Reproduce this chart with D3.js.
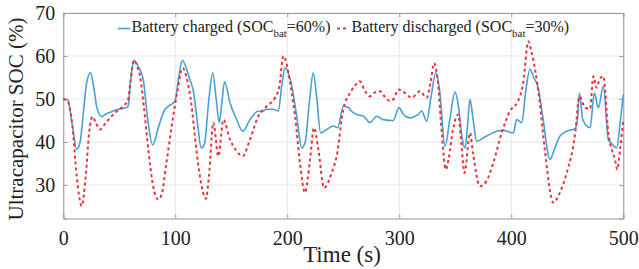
<!DOCTYPE html>
<html><head><meta charset="utf-8">
<script src="https://cdn.jsdelivr.net/npm/d3@7"></script>
<style>body{margin:0;background:#fff}svg{display:block}</style>
</head><body>
<script>
const xTicks = [0, 100, 200, 300, 400, 500];
const yTicks = [30, 40, 50, 60, 70];
const seriesNames = ["Battery charged (SOC", "Battery discharged (SOC"];
const seriesSubs = ["bat", "bat"];
const seriesTails = ["=60%)", "=30%)"];

const chargedT = [0,4,8,12,15,18,21,24.4,27,30,34.3,38,41.7,49,56.6,58,60,63,67,71.4,75,79.8,85,90.8,93.8,99.7,103,106.3,110,113,116,120,123,126,130,133.4,136.5,139.3,141.5,144,148.8,154.8,160.2,166.7,174.1,177,181.6,187.5,192,195,198,201,204,208.4,212.9,216,220,223.2,226,229.8,235.2,241,245,250,254.5,258,262,268,273.8,279.8,285.5,294.6,299.7,303.6,309.6,314,317,320,324.5,328,332.7,336,340.8,345,349.7,353,356,358.7,361,363.1,366,369,378,387,393,401.8,404.8,409.3,413,416.7,420,424,428,434.6,438,443.5,449.5,456.9,459,460.8,463.8,470.3,474.2,477.7,482.2,486.6,490,494.1,497,500];
const chargedV = [50,49.8,44,38.3,40,47,54,56.1,53,48,45.9,46.5,46.9,47.6,48,48.5,54,59,57.5,54.5,46,39.3,43.5,47.6,48.3,49.5,55,59,57,54.5,52,44,38.6,39.5,50,56.1,50,44.5,49,54,49.1,45.2,42.5,45.2,47.2,47,47.6,47.6,47.2,53,57.3,56,53,46,38.6,40,50,56.1,51,42.1,42.9,43.7,43.3,48.3,48,47,46.4,46,44.5,46,45.2,45,48,46.4,45.6,46,46.4,47.2,44.8,50,56.1,52,39,45,51.6,48,41,38.6,44,49.9,45,40.2,41.4,42.5,42.7,42.1,45.2,44.5,52,56.9,55,52.6,46,35.9,38,41.4,42.5,43.1,45,51.4,45.2,43.3,51.4,48,53,40.6,39.5,38.6,44,51];

const dischargedT = [0,4,8,12,16.4,20,23,26.2,29,32.8,38,45,55,57.6,60,63,66,68.5,72,76,80,84.8,88,92,97,102,106.6,110,114.6,118,122,127.4,130,134,138.4,143,148.8,154.8,160.2,166.7,174.1,181.6,189,193,196.4,199,200.9,206.9,211.3,215.8,220.3,223.8,227.7,232.8,239.6,244.1,250,256,260,264.9,269,273.8,278,282.8,287,291.7,295,299.1,305,311,318.5,324.5,328,331,334,338,341.4,344,348,352.7,355,358.2,363.1,366,372,378,384,391.4,398.8,406,410.7,415.2,418,421.2,425,430,437.5,443,449.5,456.9,460.8,465.8,470.3,473.3,476.2,478.8,482.2,486.6,492.6,494.6,497,500];
const dischargedV = [50,49.5,44,32,25.1,32,42,45.9,44.5,42.9,44.5,46.5,48.7,49.5,54,59,57.5,55.3,48,38,30,26.6,28,35,44,52,57.2,55,48.3,40,32,26.8,32,44.5,36.7,45.2,40.6,37.9,36.7,40.6,46,48.3,50.3,53,60,58.5,56.1,46,35.2,28.2,35.9,43.3,38.3,29.3,32.8,36.7,47.6,51.4,53,54.1,52,50.6,51.5,51.8,50.5,49.5,50,52.2,51.4,50.3,51.8,50.3,54,58.3,55,42,33.6,36,43,46.4,41,32.8,42.1,37,29.7,31,35.2,42.1,47.2,49.5,53.8,63.4,61,56.9,50,38,25.9,28,32.8,41.7,50.6,48,47.7,55.3,52.6,54.5,55.3,42.1,35.9,33.6,38,45.2];

const W = 639, H = 269;
const L = 63.3, R = 623.3, T = 13, B = 218.5;
const svg = d3.select("body").append("svg").attr("width", W).attr("height", H);
const x = d3.scaleLinear().domain([0, 500]).range([L, R]);
const y = d3.scaleLinear().domain([22.2, 70]).range([B, T]);

// grid
svg.append("g").selectAll("line").data(xTicks).join("line")
  .attr("x1", d => x(d)).attr("x2", d => x(d)).attr("y1", T).attr("y2", B)
  .attr("stroke", "#e6e6e6").attr("stroke-width", 1);
svg.append("g").selectAll("line").data(yTicks).join("line")
  .attr("x1", L).attr("x2", R).attr("y1", d => y(d)).attr("y2", d => y(d))
  .attr("stroke", "#e6e6e6").attr("stroke-width", 1);

// axes
const font = "Liberation Serif, Times New Roman, serif";
const xAxis = svg.append("g").attr("transform", `translate(0,${B})`)
  .call(d3.axisBottom(x).tickValues(xTicks).tickSize(-4).tickPadding(12));
const yAxis = svg.append("g").attr("transform", `translate(${L},0)`)
  .call(d3.axisLeft(y).tickValues(yTicks).tickSize(-4).tickPadding(8));
[xAxis, yAxis].forEach(a => {
  a.select(".domain").attr("stroke", "#999");
  a.selectAll(".tick line").attr("stroke", "#999");
  a.selectAll("text").attr("font-family", font).attr("font-size", 20).attr("fill", "#222");
});
svg.append("g").attr("transform", `translate(0,${T})`)
  .call(d3.axisTop(x).tickValues(xTicks).tickSize(-4).tickFormat(""))
  .call(g => { g.select(".domain").attr("stroke", "#999"); g.selectAll("line").attr("stroke", "#999"); });
svg.append("g").attr("transform", `translate(${R},0)`)
  .call(d3.axisRight(y).tickValues(yTicks).tickSize(-4).tickFormat(""))
  .call(g => { g.select(".domain").attr("stroke", "#999"); g.selectAll("line").attr("stroke", "#999"); });

// lines
const line = d3.line().x(d => x(d[0])).y(d => y(d[1])).curve(d3.curveMonotoneX);
const charged = chargedT.map((t, i) => [t, chargedV[i]]);
const discharged = dischargedT.map((t, i) => [t, dischargedV[i]]);
svg.append("path").datum(charged).attr("d", line).attr("fill", "none")
  .attr("stroke", "#4a9fd5").attr("stroke-width", 1.6);
svg.append("path").datum(discharged).attr("d", line).attr("fill", "none")
  .attr("stroke", "#e8323c").attr("stroke-width", 2).attr("stroke-dasharray", "3,3");

// labels
svg.append("text").attr("x", 342).attr("y", 262).attr("text-anchor", "middle")
  .attr("font-family", font).attr("font-size", 23).attr("fill", "#222").text("Time (s)");
svg.append("text").attr("transform", "translate(23,119) rotate(-90)").attr("text-anchor", "middle")
  .attr("font-family", font).attr("font-size", 21).attr("fill", "#222").text("Ultracapacitor SOC (%)");

// legend
const lg = svg.append("g");
lg.append("line").attr("x1", 118).attr("x2", 130).attr("y1", 28.5).attr("y2", 28.5)
  .attr("stroke", "#4a9fd5").attr("stroke-width", 1.6);
lg.append("line").attr("x1", 337).attr("x2", 348).attr("y1", 28.5).attr("y2", 28.5)
  .attr("stroke", "#e8323c").attr("stroke-width", 2).attr("stroke-dasharray", "3,3");
const legX = [131.5, 351.5];
seriesNames.forEach((n, i) => {
  const t = lg.append("text").attr("x", legX[i]).attr("y", 32)
    .attr("font-family", font).attr("font-size", 16).attr("fill", "#222");
  t.append("tspan").text(n);
  t.append("tspan").attr("dy", 5).attr("font-size", 11).text(seriesSubs[i]);
  t.append("tspan").attr("dy", -5).text(seriesTails[i]);
});
</script>
</body></html>
